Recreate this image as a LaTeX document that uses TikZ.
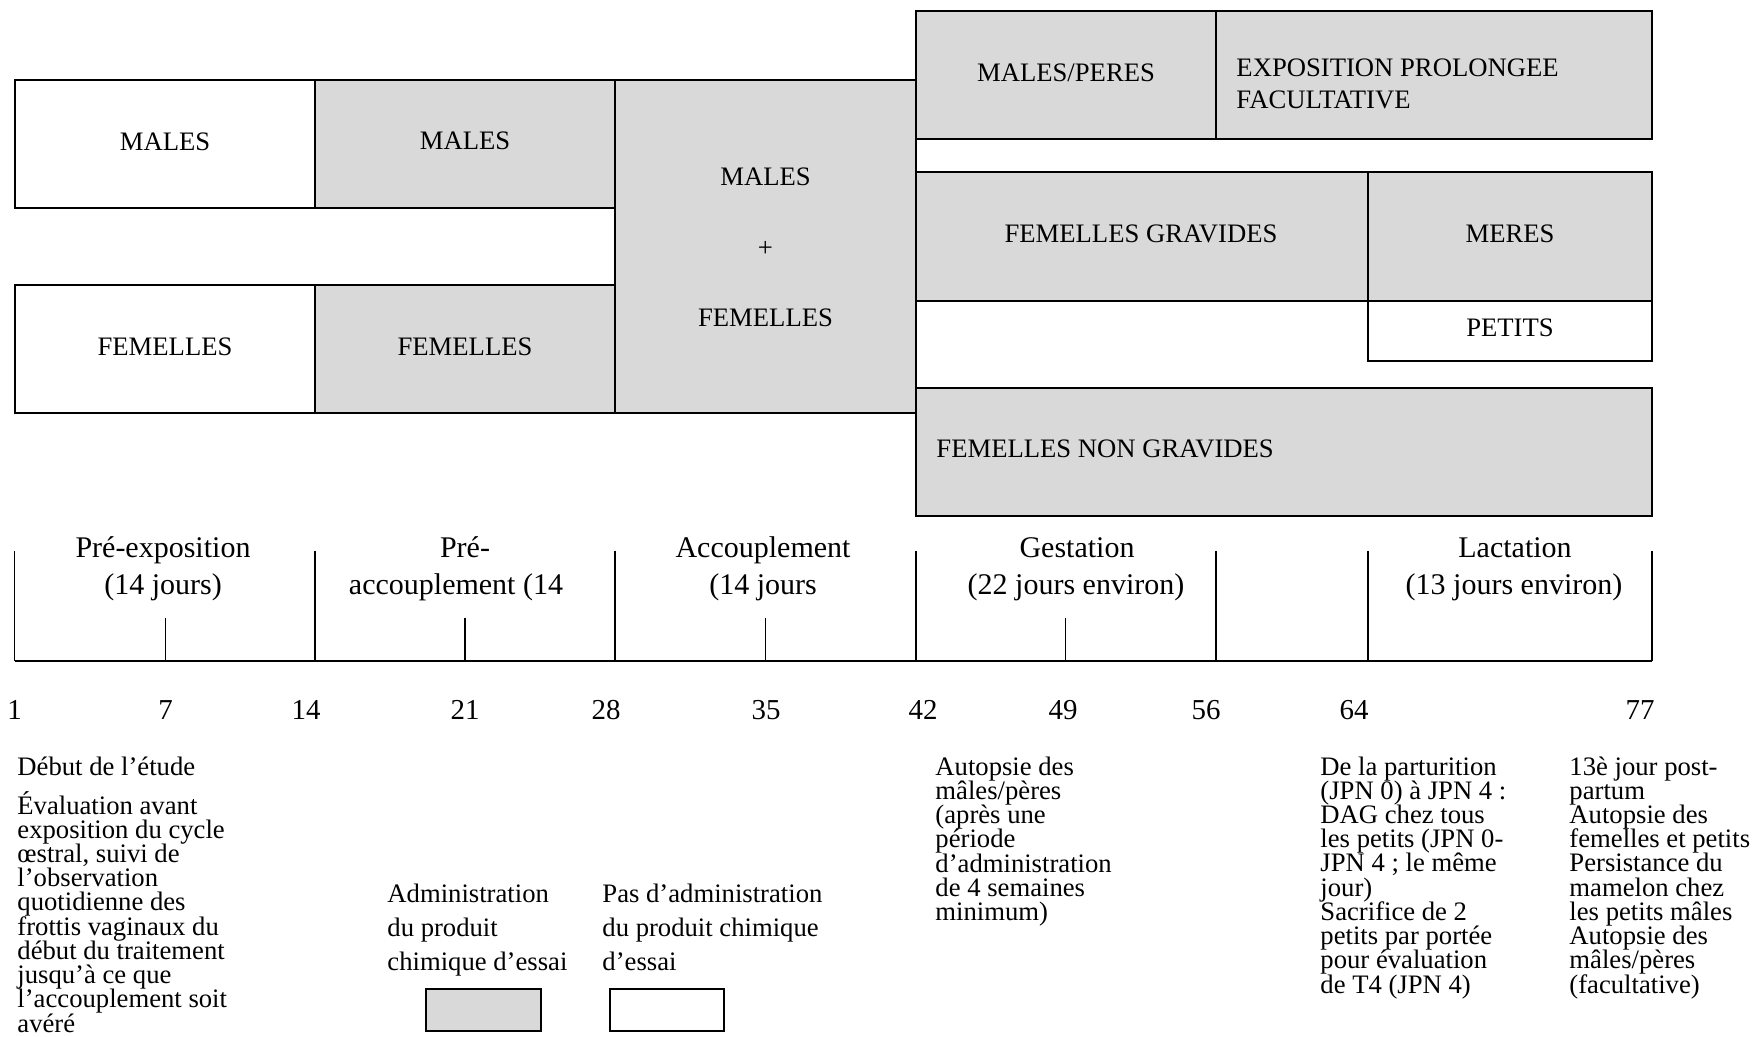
\documentclass[tikz,border=0pt]{standalone}
\usepackage{fontspec}
\setmainfont{Liberation Serif}
\definecolor{boxgray}{RGB}{217,217,217}
\begin{document}
\begin{tikzpicture}[x=0.45pt,y=-0.45pt,
  gbox/.style={draw=black,line width=0.9pt,fill=boxgray},
  wbox/.style={draw=black,line width=0.9pt,fill=white},
  lab/.style={font=\fontsize{12}{14.4}\selectfont,inner sep=0pt,anchor=base},
  llab/.style={font=\fontsize{12}{14.4}\selectfont,inner sep=0pt,anchor=base west,align=left},
  phase/.style={font=\fontsize{13.5}{16}\selectfont,inner sep=0pt,anchor=base},
  daynum/.style={font=\fontsize{13}{16}\selectfont,inner sep=0pt,anchor=base},
  note/.style={font={\fontsize{12}{10.9}\selectfont\lineskiplimit=-20pt},inner sep=0pt,anchor=base west,align=left},
  legend/.style={font=\fontsize{12}{15.3}\selectfont,inner sep=0pt,anchor=base west,align=left},
  tlbase/.style={line width=1pt},
  tlick/.style={line width=0.8pt}]
\useasboundingbox[fill=white] (0,0) rectangle (1753,1037);

% ---- left part boxes
\path[wbox] (14.5,80) rectangle (315,208);
\path[gbox] (315,80) rectangle (615,208);
\path[wbox] (14.5,285) rectangle (315,413);
\path[gbox] (315,285) rectangle (615,413);
\path[gbox] (615,80) rectangle (916,413);
% ---- right part boxes
\path[gbox] (916,11) rectangle (1216,139);
\path[gbox] (1216,11) rectangle (1652,139);
\path[gbox] (916,172) rectangle (1368,301);
\path[gbox] (1368,172) rectangle (1652,301);
\path[wbox] (1368,301) rectangle (1652,361);
\path[gbox] (916,388) rectangle (1652,516);

% ---- box labels (multi-line nodes: anchor base = last line)
\node[lab] (m1) at (165,151) {MALES};
\node[lab] (m2) at (465,150) {MALES};
\node[lab] (f1) at (165,356) {FEMELLES};
\node[lab] (f2) at (465,356) {FEMELLES};
\node[lab] (mf1) at (765.5,186) {MALES};
\node[lab,anchor=center] (mfplus) at (765.5,249) {+};
\node[lab] (mf2) at (765.5,327) {FEMELLES};
\node[lab] (mp) at (1066,82) {MALES/PERES};
\node[llab] (expo) at (1236,109) {EXPOSITION PROLONGEE\\FACULTATIVE};
\node[lab] (fg) at (1141,243) {FEMELLES GRAVIDES};
\node[lab] (meres) at (1510,243) {MERES};
\node[lab] (petits) at (1510,337) {PETITS};
\node[llab] (fng) at (936,458) {FEMELLES NON GRAVIDES};

% ---- timeline
\draw[tlbase] (14.5,661) -- (1652,661);
\foreach \x in {14.5,315,615,916,1216,1368,1652}
  \draw[tlick] (\x,551) -- (\x,661);
\foreach \x in {165.5,465,765.5,1065.5}
  \draw[tlick] (\x,618) -- (\x,661);

\node[phase] (p1a) at (163,558) {Pré-exposition};
\node[phase] (p1b) at (163,595) {(14 jours)};
\node[phase] (p2a) at (465,558) {Pré-};
\node[phase] (p2b) at (456,595) {accouplement (14};
\node[phase] (p3a) at (763,558) {Accouplement};
\node[phase] (p3b) at (763,595) {(14 jours};
\node[phase] (p4a) at (1077,558) {Gestation};
\node[phase] (p4b) at (1076,595) {(22 jours environ)};
\node[phase] (p5a) at (1515,558) {Lactation};
\node[phase] (p5b) at (1514,595) {(13 jours environ)};

\node[daynum] (d1) at (14.5,720) {1};
\node[daynum] (d7) at (165.5,720) {7};
\node[daynum] (d14) at (306,720) {14};
\node[daynum] (d21) at (465,720) {21};
\node[daynum] (d28) at (606,720) {28};
\node[daynum] (d35) at (766,720) {35};
\node[daynum] (d42) at (923,720) {42};
\node[daynum] (d49) at (1063,720) {49};
\node[daynum] (d56) at (1206,720) {56};
\node[daynum] (d64) at (1354,720) {64};
\node[daynum] (d77) at (1640,720) {77};

% ---- notes (anchor base = baseline of last line)
\node[note] (n0) at (17,776) {Début de l’étude};
\node[note] (n1) at (17,1032) {Évaluation avant\\exposition du cycle\\œstral, suivi de\\l’observation\\quotidienne des\\frottis vaginaux du\\début du traitement\\jusqu’à ce que\\l’accouplement soit\\avéré};
\node[note] (n2) at (935,920.5) {Autopsie des\\mâles/pères\\(après une\\période\\d’administration\\de 4 semaines\\minimum)};
\node[note] (n3) at (1320,993) {De la parturition\\(JPN 0) à JPN 4 :\\DAG chez tous\\les petits (JPN 0-\\JPN 4 ; le même\\jour)\\Sacrifice de 2\\petits par portée\\pour évaluation\\de T4 (JPN 4)};
\node[note] (n4) at (1569,993) {13è jour post-\\partum\\Autopsie des\\femelles et petits\\Persistance du\\mamelon chez\\les petits mâles\\Autopsie des\\mâles/pères\\(facultative)};

% ---- legend
\node[legend] (lg1) at (387,970) {Administration\\du produit\\chimique d’essai};
\node[legend] (lg2) at (602,970) {Pas d’administration\\du produit chimique\\d’essai};
\path[gbox] (426,989) rectangle (541,1031);
\path[wbox] (610,989) rectangle (724,1031);
\end{tikzpicture}
\end{document}
